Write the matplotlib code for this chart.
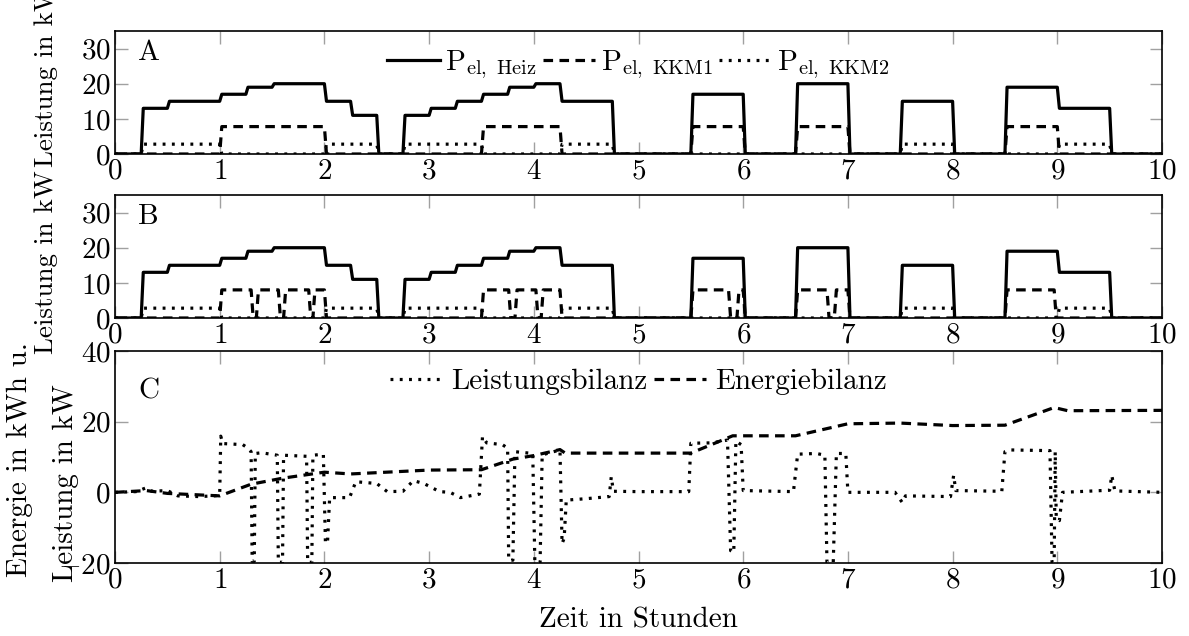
import numpy as np
import matplotlib
matplotlib.use("Agg")
import matplotlib.pyplot as plt

plt.rcParams['font.family'] = 'cmr10'
plt.rcParams['mathtext.fontset'] = 'cm'
plt.rcParams['axes.formatter.use_mathtext'] = True
plt.rcParams['font.size'] = 21

# Heizstab: Schaltzeitpunkte (h) und Leistungsstufen (kW), Stufe i gilt ab t_i
heiz_t = [0, 0.25, 0.5, 1.0, 1.25, 1.5, 2.0, 2.25, 2.5, 2.75, 3.0, 3.25, 3.5, 3.75,
          4.0, 4.25, 4.75, 5.5, 6.0, 6.5, 7.0, 7.5, 8.0, 8.5, 9.0, 9.5]
heiz_p = [0, 13, 15, 17, 19, 20, 15, 11, 0, 11, 13, 15, 17, 19,
          20, 15, 0, 17, 0, 20, 0, 15, 0, 19, 13, 0]

# Kältemaschine 1, Fahrplan A
kkm1_a_t = [0, 1.0, 2.0, 3.5, 4.25, 5.5, 6.0, 6.5, 7.0, 8.5, 9.0]
kkm1_a_p = [0, 7.8, 0, 7.8, 0, 7.8, 0, 7.8, 0, 7.8, 0]

# Kältemaschine 1, Fahrplan B (taktend)
kkm1_b_t = [0, 1.0, 1.3, 1.35, 1.56, 1.61, 1.85, 1.89, 2.0, 3.5, 3.76, 3.82, 4.02,
            4.07, 4.25, 5.5, 5.86, 5.94, 6.0, 6.5, 6.8, 6.87, 7.0, 8.5, 8.97]
kkm1_b_p = [0, 8, 0, 8, 0, 8, 0, 8, 0, 8, 0, 8, 0,
            8, 0, 8, 0, 8, 0, 8, 0, 8, 0, 8, 0]

# Kältemaschine 2
kkm2_t = [0, 0.25, 1.0, 2.0, 2.5, 2.75, 3.5, 4.25, 4.75, 7.5, 8.0, 9.0, 9.5]
kkm2_p = [0, 2.8, 0, 2.8, 0, 2.8, 0, 2.8, 0, 2.8, 0, 2.8, 0]

# Bilanzen
lb_t = [0, 0.2, 0.3, 0.35, 0.5, 0.6, 0.8, 0.95, 1.0,
        1.01, 1.03, 1.22, 1.27, 1.30, 1.31, 1.33, 1.34, 1.4, 1.55, 1.56, 1.6, 1.61,
        1.83, 1.84, 1.88, 1.89, 1.99, 2.01, 2.03, 2.05, 2.24, 2.3, 2.5, 2.6, 2.75,
        2.85, 2.95, 3.1, 3.2, 3.3, 3.48,
        3.51, 3.55, 3.7, 3.75, 3.76, 3.80, 3.82, 3.99, 4.01, 4.06, 4.08, 4.25, 4.27,
        4.29, 4.31, 4.5, 4.72, 4.74, 4.76, 5.0, 5.48,
        5.5, 5.7, 5.85, 5.88, 5.91, 5.93, 5.98, 6.0, 6.48, 6.52, 6.7, 6.78, 6.8, 6.86,
        6.89, 6.98, 7.0, 7.45, 7.52, 7.55, 7.98, 8.01, 8.03, 8.47, 8.5, 8.55, 8.93,
        8.95, 8.97, 8.98, 8.99, 9.02, 9.05, 9.5, 9.52, 9.55, 10.0]
lb_p = [0, 0.2, 1.3, 0.3, 0.5, -1.0, -1.2, -1.0, -0.8,
        15.9, 13.8, 13.5, 12.5, 11.5, -19.5, -19.5, 11.0, 11.2, 10.5, -19.8, -19.8, 10.5,
        10.2, -19.8, -19.8, 10.5, 10.8, -14.5, -14.0, -1.5, -1.5, 3.0, 2.5, 0.2, 0.3,
        3.3, 2.5, 0.2, 0.0, -1.5, -0.5,
        15.8, 14.0, 13.5, 12.5, -19.2, -19.2, 11.5, 11.0, -19.8, -19.8, 10.6, 12.0, -14.5,
        -13.0, -2.2, -1.8, -1.2, 4.4, 0.3, 0.2, 0.2,
        13.9, 14.0, 14.8, -16.5, -17.0, 14.5, 13.5, 0.5, 0.2, 10.8, 11.0, 10.5, -19.8, -19.8,
        11.0, 11.0, 0.0, 0.0, -2.9, -1.0, -1.2, 4.8, 0.5, 0.3, 11.5, 12.0, 11.8,
        -19.8, -19.8, 11.5, -7.5, -8.0, 0.0, 0.6, 4.8, 0.4, 0.0]

eb_t = [0, 0.3, 0.5, 1.0, 1.3, 1.6, 2.0, 2.25, 3.0, 3.5, 3.8, 4.0, 4.25, 4.3,
        5.5, 5.9, 6.5, 7.0, 7.5, 8.0, 8.5, 8.97, 9.1, 10.0]
eb_p = [0, 0.5, -0.3, -1.0, 2.3, 4.0, 5.7, 5.2, 6.3, 6.4, 9.4, 10.4, 12.1, 11.1,
        11.1, 16.0, 16.0, 19.4, 19.6, 18.9, 19.0, 24.0, 23.1, 23.2]


def steps(t, p, ramp=0.02, t_end=10.0):
    xs, ys = [t[0]], [p[0]]
    for i in range(1, len(t)):
        xs += [t[i], t[i] + ramp]
        ys += [p[i - 1], p[i]]
    xs.append(t_end)
    ys.append(p[-1])
    return xs, ys


LW = 2.3
DASH = (0, (3.0, 2.0))
DOT = (0, (0.9, 2.0))


def style_axis(ax, ylim, yticks):
    ax.set_xlim(0, 10)
    ax.set_ylim(*ylim)
    ax.set_xticks(range(11))
    ax.set_yticks(yticks)
    ax.tick_params(direction='in', length=9, width=1.0, color='#a0a0a0',
                   top=True, right=True, pad=3, labelsize=21)
    for s in ax.spines.values():
        s.set_linewidth(1.2)


fig = plt.figure(figsize=(11.89, 6.36), dpi=100)
W, H = 1189, 636


def box(x0, y0, x1, y1):
    return [x0 / W, 1 - y1 / H, (x1 - x0) / W, (y1 - y0) / H]


axA = fig.add_axes(box(115, 31, 1162, 154))
axB = fig.add_axes(box(115, 195, 1162, 318))
axC = fig.add_axes(box(115, 351, 1162, 563))

for ax, k1_t, k1_p in [(axA, kkm1_a_t, kkm1_a_p), (axB, kkm1_b_t, kkm1_b_p)]:
    ax.plot(*steps(heiz_t, heiz_p), color='black', lw=LW, label=r'P$_{\mathrm{el,\ Heiz}}$')
    ax.plot(*steps(k1_t, k1_p), color='black', lw=LW, ls=DASH, label=r'P$_{\mathrm{el,\ KKM1}}$')
    ax.plot(*steps(kkm2_t, kkm2_p), color='black', lw=LW, ls=DOT, label=r'P$_{\mathrm{el,\ KKM2}}$')
    style_axis(ax, (0, 35), [0, 10, 20, 30])

axA.legend(loc='upper center', bbox_to_anchor=(0.5, 1.07), ncol=3, frameon=False,
           handlelength=1.8, handletextpad=0.2, columnspacing=0.2, fontsize=21)
axA.text(0.022, 0.93, 'A', transform=axA.transAxes, ha='left', va='top', fontsize=21)
axB.text(0.022, 0.93, 'B', transform=axB.transAxes, ha='left', va='top', fontsize=21)

axC.plot(lb_t, lb_p, color='black', lw=LW, ls=DOT, label='Leistungsbilanz')
axC.plot(eb_t, eb_p, color='black', lw=LW, ls=DASH, label='Energiebilanz')
style_axis(axC, (-20, 40), [-20, 0, 20, 40])
axC.legend(loc='upper center', bbox_to_anchor=(0.5, 1.04), ncol=2, frameon=False,
           handlelength=1.8, handletextpad=0.3, columnspacing=0.2, fontsize=21)
axC.text(0.022, 0.87, 'C', transform=axC.transAxes, ha='left', va='top', fontsize=21)
axC.set_xlabel('Zeit in Stunden', fontsize=21, labelpad=10)

fig.text(46 / W, 1 - 75 / H, 'Leistung in kW', rotation=90, ha='center', va='center', fontsize=19.5)
fig.text(46 / W, 1 - 262 / H, 'Leistung in kW', rotation=90, ha='center', va='center', fontsize=19.5)
fig.text(20 / W, 1 - 460 / H, 'Energie in kWh u.', rotation=90, ha='center', va='center', fontsize=21)
fig.text(66 / W, 1 - 483 / H, 'Leistung in kW', rotation=90, ha='center', va='center', fontsize=21)

fig.savefig('out.png', dpi=100)
